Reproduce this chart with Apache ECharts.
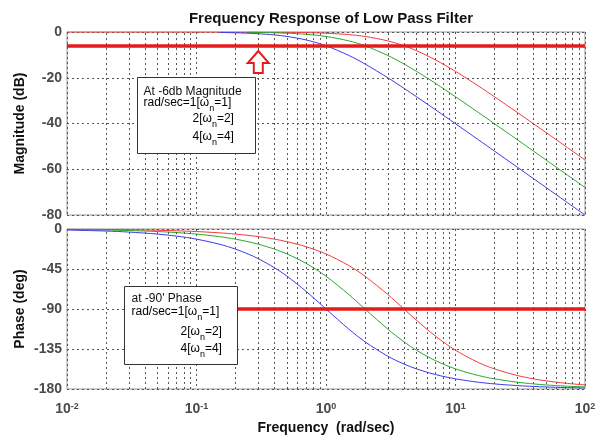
<!DOCTYPE html>
<html>
<head>
<meta charset="utf-8">
<title>Frequency Response of Low Pass Filter</title>
<script src="https://cdn.jsdelivr.net/npm/echarts@6/dist/echarts.min.js"></script>
</head>
<body style="margin:0">
<div id="main" style="width:602px;height:444px;"></div>
<script type="text/javascript">
// frequencies (rad/sec) the curves were read at
var freq = [0.01, 0.02, 0.03, 0.05, 0.07, 0.1, 0.15, 0.2, 0.25, 0.3, 0.4, 0.5, 0.7, 1, 1.5, 2, 3, 4, 5, 7, 10, 15, 20, 30, 40, 50, 70, 100];

// magnitude (dB), null where the curve is not drawn
var magW1 = [null, null, null, null, null, null, -0.19, -0.34, -0.53, -0.75, -1.29, -1.94, -3.46, -6.02, -10.24, -13.98, -20.00, -24.61, -28.30, -33.98, -40.09, -47.08, -52.06, -59.09, -64.09, -67.96, -73.81, -80.00];
var magW2 = [null, null, null, null, null, null, null, null, -0.13, -0.19, -0.34, -0.53, -1.00, -1.94, -3.88, -6.02, -10.24, -13.98, -17.21, -22.44, -28.30, -35.16, -40.09, -47.08, -52.06, -55.93, -61.77, -67.96];
var magW4 = [0, 0, 0, 0, 0, -0.01, -0.01, -0.02, -0.03, -0.05, -0.09, -0.13, -0.26, -0.53, -1.14, -1.94, -3.88, -6.02, -8.17, -12.18, -17.21, -23.56, -28.30, -35.16, -40.09, -43.93, -49.75, -55.93];

// phase (deg)
var phW1 = [-1.15, -2.29, -3.44, -5.72, -8.01, -11.42, -17.06, -22.62, -28.07, -33.40, -43.60, -53.13, -69.98, -90.00, -112.62, -126.87, -143.13, -151.93, -157.38, -163.74, -168.58, -172.37, -174.28, -176.18, -177.14, -177.71, -178.36, -178.85];
var phW2 = [-0.57, -1.15, -1.72, -2.86, -4.01, -5.72, -8.58, -11.42, -14.25, -17.06, -22.62, -28.07, -38.58, -53.13, -73.74, -90.00, -112.62, -126.87, -136.40, -148.11, -157.38, -164.81, -168.58, -172.37, -174.28, -175.42, -176.73, -177.71];
var phW4 = [-0.29, -0.57, -0.86, -1.43, -2.01, -2.86, -4.30, -5.72, -7.15, -8.58, -11.42, -14.25, -19.85, -28.07, -41.11, -53.13, -73.74, -90.00, -102.68, -120.51, -136.40, -150.14, -157.38, -164.81, -168.58, -170.85, -173.46, -175.42];

// minor vertical grid lines
var minorGrid = [0.02, 0.03, 0.04, 0.05, 0.06, 0.07, 0.08, 0.09,
                 0.2, 0.3, 0.4, 0.5, 0.6, 0.7, 0.8, 0.9,
                 2, 3, 4, 5, 6, 7, 8, 9,
                 20, 30, 40, 50, 60, 70, 80, 90];

var magLevel = -6;
var phaseLevel = -90;
var phaseLineStart = 0.2;
var arrowAt = [0.3, -13.1];

var RED = '#f23a3a', GREEN = '#2aa82a', BLUE = '#3b3bea', THICK = '#e31b1b';
var FONT = 'Liberation Sans';

function pairs(vals) {
    var out = [];
    for (var i = 0; i < freq.length; i++) {
        if (vals[i] !== null) out.push([freq[i], vals[i]]);
    }
    return out;
}

var gridLine = {color: '#555', type: [2, 3], width: 1};
var minorLines = {
    silent: true, symbol: ['none', 'none'], label: {show: false},
    lineStyle: gridLine, animation: false,
    data: minorGrid.map(function (v) { return {xAxis: v}; })
};

function curve(name, xi, vals, color, extra) {
    var s = {
        name: name, type: 'line', xAxisIndex: xi, yAxisIndex: xi,
        data: pairs(vals), showSymbol: false, smooth: 0.3,
        lineStyle: {color: color, width: 1}, itemStyle: {color: color},
        animation: false
    };
    for (var k in extra) s[k] = extra[k];
    return s;
}

// rich text styles for the subscript n in the note boxes
var noteRich = {
    a: {fontFamily: FONT, fontSize: 12, color: '#111', lineHeight: 14, verticalAlign: 'top'},
    s: {fontFamily: FONT, fontSize: 9, color: '#111', lineHeight: 9, padding: [8, 0, 0, 0], verticalAlign: 'top'}
};
function note(x, y, str) {
    return {type: 'text', x: x, y: y, z: 101, style: {text: str, verticalAlign: 'top', rich: noteRich}};
}

var dom = document.getElementById('main');
var myChart = echarts.init(dom);

var xBase = {
    type: 'log', logBase: 10, min: 0.01, max: 100,
    axisLine: {show: false}, axisTick: {show: false},
    splitLine: {show: true, lineStyle: gridLine}
};
var boldText = {fontFamily: FONT, fontSize: 14, fontWeight: 'bold', color: '#111'};
var tickText = {fontFamily: FONT, fontSize: 14, fontWeight: 'bold', color: '#4a4a4a', margin: 5};

option = {
    title: {
        text: 'Frequency Response of Low Pass Filter', left: 326, textAlign: 'center', top: 6,
        textStyle: {fontFamily: FONT, fontSize: 15, fontWeight: 'bold', color: '#111'}
    },
    grid: [
        {left: 67, right: 17, top: 32, height: 183, show: true, borderColor: '#999', borderWidth: 1, backgroundColor: '#fff'},
        {left: 67, right: 17, top: 229, height: 160, show: true, borderColor: '#999', borderWidth: 1, backgroundColor: '#fff'}
    ],
    xAxis: [
        Object.assign({gridIndex: 0, axisLabel: {show: false}}, xBase),
        Object.assign({
            gridIndex: 1,
            name: 'Frequency  (rad/sec)', nameLocation: 'middle', nameGap: 32,
            nameTextStyle: boldText,
            axisLabel: {
                margin: 13,
                formatter: function (v) {
                    return '{b|10}{s|' + Math.round(Math.log10(v)) + '}';
                },
                rich: {
                    b: {fontFamily: FONT, fontSize: 14, fontWeight: 'bold', color: '#4a4a4a', verticalAlign: 'top', lineHeight: 20},
                    s: {fontFamily: FONT, fontSize: 9, fontWeight: 'bold', color: '#4a4a4a', verticalAlign: 'top', lineHeight: 9}
                }
            }
        }, xBase)
    ],
    yAxis: [
        {
            gridIndex: 0, type: 'value', min: -80, max: 0, interval: 20,
            name: 'Magnitude (dB)', nameLocation: 'middle', nameGap: 40, nameMoveOverlap: false,
            nameTextStyle: boldText,
            axisLine: {show: false}, axisTick: {show: false},
            axisLabel: tickText,
            splitLine: {show: true, lineStyle: gridLine}
        },
        {
            gridIndex: 1, type: 'value', min: -180, max: 0, interval: 45,
            name: 'Phase (deg)', nameLocation: 'middle', nameGap: 40, nameMoveOverlap: false,
            nameTextStyle: boldText,
            axisLine: {show: false}, axisTick: {show: false},
            axisLabel: tickText,
            splitLine: {show: true, lineStyle: gridLine}
        }
    ],
    series: [
        curve('mag wn=4', 0, magW4, RED, {markLine: minorLines}),
        curve('mag wn=2', 0, magW2, GREEN, {
            markPoint: {
                symbol: 'path://M10.5,0 L21,12 L15,12 L15,22 L6,22 L6,12 L0,12 Z',
                symbolSize: [21, 22], silent: true, animation: false,
                itemStyle: {color: '#fff', borderColor: THICK, borderWidth: 2},
                label: {show: false},
                data: [{coord: arrowAt}]
            }
        }),
        curve('mag wn=1', 0, magW1, BLUE, {
            markLine: {
                silent: true, symbol: ['none', 'none'], label: {show: false}, animation: false,
                lineStyle: {color: THICK, width: 3.5, type: 'solid'},
                data: [{yAxis: magLevel}]
            }
        }),
        curve('phase wn=4', 1, phW4, RED, {markLine: minorLines}),
        curve('phase wn=2', 1, phW2, GREEN, {}),
        curve('phase wn=1', 1, phW1, BLUE, {
            markLine: {
                silent: true, symbol: ['none', 'none'], label: {show: false}, animation: false,
                lineStyle: {color: THICK, width: 3.5, type: 'solid'},
                data: [[{coord: [phaseLineStart, phaseLevel]}, {coord: [100, phaseLevel]}]]
            }
        })
    ],
    graphic: [
        {
            type: 'group', left: 137, top: 77, z: 100,
            children: [
                {type: 'rect', z: 100, shape: {x: 0, y: 0, width: 118, height: 76}, style: {fill: '#fff', stroke: '#333', lineWidth: 1}},
                {type: 'text', x: 6, y: 14, z: 101, style: {text: 'At -6db Magnitude', font: '12px ' + FONT, fill: '#111', verticalAlign: 'middle'}},
                note(6, 19, '{a|rad/sec=1[ω}{s|n}{a|=1]}'),
                note(55, 35, '{a|2[ω}{s|n}{a|=2]}'),
                note(55, 53, '{a|4[ω}{s|n}{a|=4]}')
            ]
        },
        {
            type: 'group', left: 124, top: 286, z: 100,
            children: [
                {type: 'rect', z: 100, shape: {x: 0, y: 0, width: 113, height: 78}, style: {fill: '#fff', stroke: '#333', lineWidth: 1}},
                {type: 'text', x: 7, y: 12, z: 101, style: {text: "at -90' Phase", font: '12px ' + FONT, fill: '#111', verticalAlign: 'middle'}},
                note(7, 19, '{a|rad/sec=1[ω}{s|n}{a|=1]}'),
                note(56, 39, '{a|2[ω}{s|n}{a|=2]}'),
                note(56, 56, '{a|4[ω}{s|n}{a|=4]}')
            ]
        }
    ]
};

if (option && typeof option === 'object') {
    myChart.setOption(option, true);
}
</script>
</body>
</html>
